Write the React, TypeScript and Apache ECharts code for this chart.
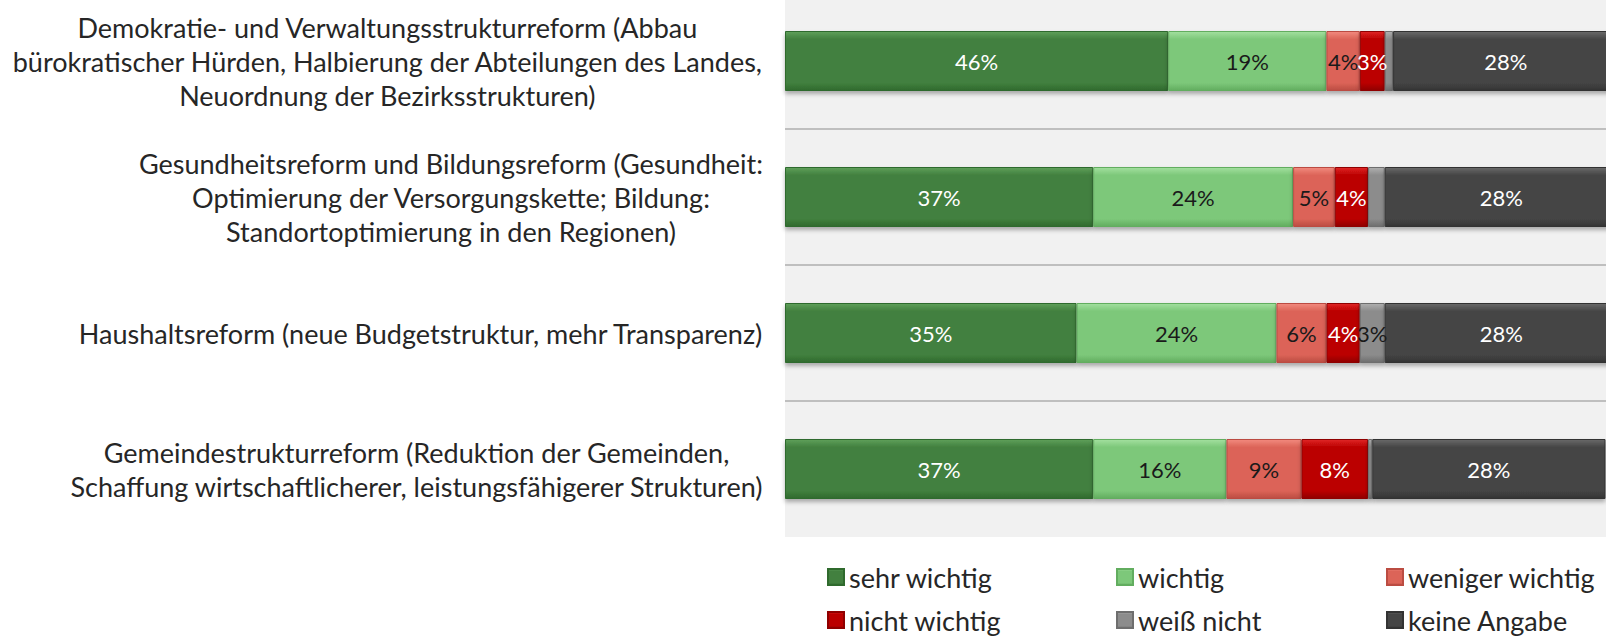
import React, { useEffect, useRef } from "react";
import * as echarts from "echarts";

const categories = [
  "Demokratie- und Verwaltungsstrukturreform (Abbau\nbürokratischer Hürden, Halbierung der Abteilungen des Landes,\nNeuordnung der Bezirksstrukturen)",
  "Gesundheitsreform und Bildungsreform (Gesundheit:\nOptimierung der Versorgungskette; Bildung:\nStandortoptimierung in den Regionen)",
  "Haushaltsreform (neue Budgetstruktur, mehr Transparenz)",
  "Gemeindestrukturreform (Reduktion der Gemeinden,\nSchaffung wirtschaftlicherer, leistungsfähigerer Strukturen)",
];

const seriesNames = [
  "sehr wichtig",
  "wichtig",
  "weniger wichtig",
  "nicht wichtig",
  "weiß nicht",
  "keine Angabe",
];

const sehrWichtig = [46, 37, 35, 37];
const wichtig = [19, 24, 24, 16];
const wenigerWichtig = [4, 5, 6, 9];
const nichtWichtig = [3, 4, 4, 8];
const weissNicht = [1, 2, 3, 0.5];
const keineAngabe = [28, 28, 28, 28];

const seriesValues = [sehrWichtig, wichtig, wenigerWichtig, nichtWichtig, weissNicht, keineAngabe];

const palette = [
  { main: "#42803f", light: "#5fa05b", dark: "#2f6a2d", label: "#ffffff" },
  { main: "#7dc87a", light: "#a3e09f", dark: "#62ad5f", label: "#1a1a1a" },
  { main: "#dc6458", light: "#f28a7e", dark: "#bb4c42", label: "#1a1a1a" },
  { main: "#bb0000", light: "#e02525", dark: "#8f0000", label: "#ffffff" },
  { main: "#8c8c8c", light: "#b0b0b0", dark: "#6e6e6e", label: "#1a1a1a" },
  { main: "#454545", light: "#6a6a6a", dark: "#333333", label: "#ffffff" },
];

// chart is shifted 7px up (top of plot area lies above the page)
const legendPos = [
  { left: 827, top: 570 },
  { left: 1116, top: 570 },
  { left: 1386, top: 570 },
  { left: 827, top: 613 },
  { left: 1116, top: 613 },
  { left: 1386, top: 613 },
];

const FONT = "Lato";

export default function App() {
  const ref = useRef<HTMLDivElement>(null);

  useEffect(() => {
    if (!ref.current) return;
    const chart = echarts.init(ref.current, undefined, { renderer: "svg" });

    const series = seriesNames.map((name, i) => ({
      name,
      type: "bar",
      stack: "total",
      barWidth: 60,
      data: seriesValues[i],
      itemStyle: {
        color: new echarts.graphic.LinearGradient(0, 0, 0, 1, [
          { offset: 0, color: palette[i].light },
          { offset: 0.13, color: palette[i].main },
          { offset: 0.87, color: palette[i].main },
          { offset: 1, color: palette[i].dark },
        ]),
        borderColor: palette[i].dark,
        borderWidth: 1,
        shadowColor: "rgba(0,0,0,0.3)",
        shadowBlur: 4,
        shadowOffsetY: 3,
      },
      label: {
        show: true,
        position: "inside",
        fontFamily: FONT,
        fontSize: 22,
        color: palette[i].label,
        formatter: (p: any) => (p.value >= 3 ? `${p.value}%` : ""),
      },
    }));

    const legends = seriesNames.map((name, i) => ({
      data: [name],
      left: legendPos[i].left,
      top: legendPos[i].top,
      padding: 0,
      icon: "rect",
      itemWidth: 16,
      itemHeight: 16,
      selectedMode: false,
      textStyle: {
        fontFamily: FONT,
        fontSize: 27,
        lineHeight: 28,
        color: "#262626",
      },
    }));

    chart.setOption({
      animation: false,
      backgroundColor: "#ffffff",
      legend: legends,
      grid: {
        left: 785,
        width: 833,
        top: 0,
        height: 544,
        show: true,
        backgroundColor: "#f1f1f1",
        borderWidth: 0,
        containLabel: false,
      },
      xAxis: {
        type: "value",
        min: 0,
        max: 100,
        show: false,
        splitLine: { show: false },
      },
      yAxis: {
        type: "category",
        inverse: true,
        data: categories,
        axisLine: { show: false },
        axisTick: { show: false },
        splitLine: {
          show: true,
          showMinLine: false,
          showMaxLine: false,
          lineStyle: { color: "#bfbfbf", width: 2 },
        },
        axisLabel: {
          margin: 22,
          align: "right",
          formatter: (v: string) =>
            v
              .split("\n")
              .map((l) => `{c|${l}}`)
              .join("\n"),
          rich: {
            c: {
              align: "center",
              fontFamily: FONT,
              fontSize: 27,
              lineHeight: 34,
              color: "#262626",
            },
          },
        },
      },
      series,
    });

    return () => chart.dispose();
  }, []);

  return (
    <div
      ref={ref}
      style={{ position: "fixed", left: 0, top: -7, width: 1620, height: 645 }}
    />
  );
}
